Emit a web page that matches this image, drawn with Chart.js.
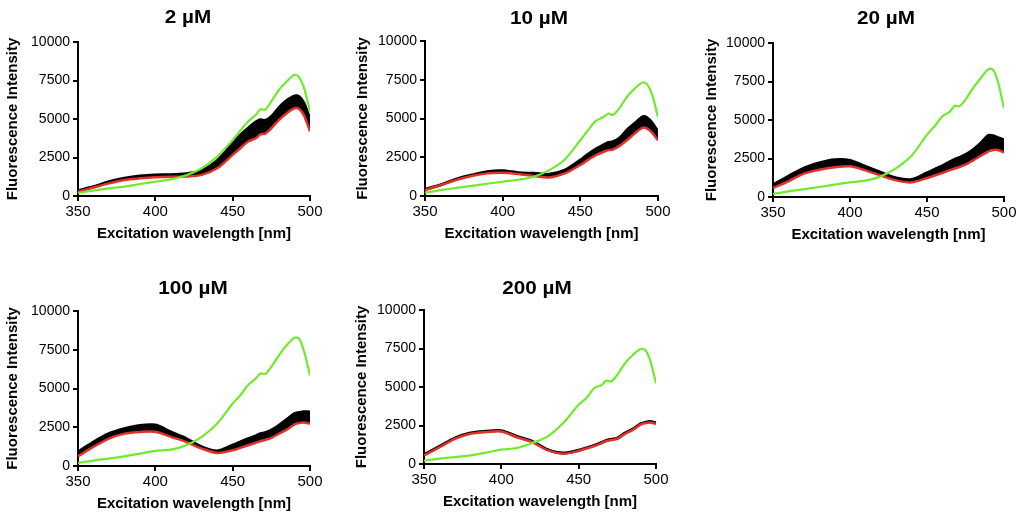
<!DOCTYPE html>
<html>
<head>
<meta charset="utf-8">
<title>Excitation spectra</title>
<script src="https://cdn.jsdelivr.net/npm/chart.js@4.4.1/dist/chart.umd.min.js"></script>
<style>
  body { margin: 0; background: #fff; }
  #wrap { position: relative; width: 1027px; height: 517px; overflow: hidden; }
  #wrap canvas { position: absolute; }
</style>
</head>
<body>
<div id="wrap">
  <canvas id="c2" width="340" height="250" style="left:0px;top:0px;width:340px;height:250px"></canvas>
  <canvas id="c10" width="340" height="250" style="left:350px;top:0px;width:340px;height:250px"></canvas>
  <canvas id="c20" width="328" height="250" style="left:699px;top:0px;width:328px;height:250px"></canvas>
  <canvas id="c100" width="340" height="255" style="left:0px;top:262px;width:340px;height:255px"></canvas>
  <canvas id="c200" width="340" height="255" style="left:349px;top:262px;width:340px;height:255px"></canvas>
</div>
<script>
const wavelengths = [350, 360, 370, 380, 390, 400, 410, 420, 430, 440, 450, 455, 460, 465, 468, 471, 475, 480, 485, 490, 493, 496, 500];
const titles = ['2 µM', '10 µM', '20 µM', '100 µM', '200 µM'];
const xTicks = [350, 400, 450, 500];
const yTicks = [0, 2500, 5000, 7500, 10000];

// 2 µM
const green2 = [200, 350, 500, 610, 780, 930, 1080, 1350, 1800, 2560, 3640, 4250, 4840, 5270, 5640, 5600, 6140, 6900, 7440, 7870, 7700, 7070, 5490];
const black2 = [350, 600, 930, 1150, 1300, 1370, 1380, 1450, 1650, 2300, 3400, 3950, 4400, 4800, 4950, 4900, 5150, 5750, 6200, 6500, 6450, 6050, 5000];
const red2 = [280, 550, 820, 1040, 1150, 1220, 1250, 1260, 1370, 1800, 2670, 3100, 3540, 3750, 4000, 4050, 4400, 4950, 5380, 5700, 5650, 5250, 4200];

// 10 µM
const green10 = [215, 380, 520, 650, 790, 920, 1050, 1245, 1670, 2360, 3600, 4250, 4850, 5100, 5320, 5230, 5640, 6390, 6930, 7320, 7200, 6600, 5100];
const black10 = [430, 710, 1090, 1350, 1570, 1630, 1500, 1460, 1400, 1670, 2320, 2700, 3030, 3300, 3450, 3500, 3710, 4250, 4680, 5110, 5050, 4750, 4140];
const red10 = [390, 700, 1030, 1290, 1460, 1500, 1420, 1290, 1200, 1460, 2000, 2330, 2640, 2850, 2960, 3000, 3220, 3600, 4030, 4400, 4350, 4100, 3600];

// 20 µM
const green20 = [195, 370, 500, 650, 800, 950, 1060, 1340, 1880, 2680, 4050, 4590, 5240, 5560, 5930, 5890, 6320, 7080, 7730, 8310, 8250, 7500, 5780];
const black20 = [800, 1340, 1880, 2210, 2420, 2380, 1990, 1600, 1230, 1130, 1560, 1800, 2030, 2300, 2450, 2550, 2750, 3070, 3510, 4000, 3980, 3850, 3720];
const red20 = [585, 1020, 1520, 1770, 1930, 1990, 1730, 1390, 1080, 950, 1230, 1400, 1560, 1750, 1850, 1950, 2100, 2380, 2680, 2970, 3050, 3050, 2900];

// 100 µM
const green100 = [195, 350, 480, 620, 800, 970, 1060, 1340, 1880, 2740, 4030, 4570, 5220, 5650, 5970, 5930, 6400, 7160, 7800, 8280, 8200, 7450, 5860];
const black100 = [905, 1550, 2090, 2410, 2620, 2640, 2200, 1770, 1230, 970, 1340, 1550, 1770, 1950, 2080, 2150, 2310, 2630, 3000, 3380, 3450, 3500, 3490];
const red100 = [625, 1230, 1770, 2090, 2200, 2210, 1880, 1550, 1120, 840, 1010, 1170, 1340, 1500, 1600, 1680, 1810, 2090, 2350, 2690, 2780, 2800, 2740];

// 200 µM
const green200 = [215, 350, 450, 560, 740, 930, 1040, 1360, 1790, 2660, 3840, 4280, 4920, 5140, 5420, 5360, 5790, 6540, 7080, 7470, 7400, 6800, 5250];
const black200 = [605, 1140, 1680, 2010, 2120, 2160, 1790, 1470, 930, 710, 890, 1050, 1210, 1400, 1530, 1600, 1680, 2010, 2270, 2610, 2700, 2760, 2660];
const red200 = [560, 1090, 1630, 1960, 2070, 2110, 1740, 1420, 880, 670, 850, 1010, 1170, 1360, 1490, 1560, 1640, 1960, 2220, 2560, 2650, 2700, 2600];

const FONT = '"Liberation Sans", Arial, Helvetica, sans-serif';

// canvas box and plot area in page pixels
const panels = [
  { id: 'c2',   title: titles[0], green: green2,   black: black2,   red: red2,   box: [0, 0, 340, 250],   plot: [78, 42, 310, 196],  xH: 51, tx: 188, ty: 18 },
  { id: 'c10',  title: titles[1], green: green10,  black: black10,  red: red10,  box: [350, 0, 340, 250], plot: [425, 41, 658, 196], xH: 51, tx: 539, ty: 19 },
  { id: 'c20',  title: titles[2], green: green20,  black: black20,  red: red20,  box: [699, 0, 328, 250], plot: [773, 43, 1004, 197], xH: 51, tx: 886, ty: 19 },
  { id: 'c100', title: titles[3], green: green100, black: black100, red: red100, box: [0, 262, 340, 255], plot: [78, 311, 310, 466], xH: 51, tx: 193, ty: 289 },
  { id: 'c200', title: titles[4], green: green200, black: black200, red: red200, box: [349, 262, 340, 255], plot: [424, 310, 656, 464], xH: 51, tx: 537, ty: 289 }
];

const toPoints = arr => wavelengths.map((w, i) => ({ x: w, y: arr[i] }));

// draws the bold panel heading, slightly widened like the original export
const panelTitle = {
  id: 'panelTitle',
  afterDraw(chart, args, opts) {
    const ctx = chart.ctx;
    ctx.save();
    ctx.font = 'bold 18px ' + FONT;
    ctx.fillStyle = '#000';
    ctx.textAlign = 'center';
    ctx.textBaseline = 'middle';
    ctx.translate(opts.x, opts.y);
    ctx.scale(1.15, 1);
    ctx.fillText(opts.text, 0, 0);
    ctx.restore();
  }
};

panels.forEach(p => {
  const [bl, bt, bw, bh] = p.box;
  const [pl, pt, pr, pb] = p.plot;
  const yW = pl - bl;
  const padTop = pt - bt;
  const padRight = bl + bw - pr;
  const padBottom = bh - (pb - bt) - p.xH;

  new Chart(document.getElementById(p.id), {
    type: 'line',
    data: {
      datasets: [
        {
          label: 'black',
          data: toPoints(p.black),
          borderColor: '#000',
          backgroundColor: '#000',
          borderWidth: 3,
          fill: '+1',
          order: 3
        },
        {
          label: 'red',
          data: toPoints(p.red),
          borderColor: '#e2302a',
          borderWidth: 2.5,
          fill: false,
          order: 2
        },
        {
          label: 'green',
          data: toPoints(p.green),
          borderColor: '#6fea2c',
          borderWidth: 2.2,
          fill: false,
          order: 1
        }
      ]
    },
    options: {
      responsive: false,
      animation: false,
      devicePixelRatio: 1,
      elements: { point: { radius: 0 }, line: { tension: 0.3 } },
      layout: { padding: { top: padTop, right: padRight, bottom: padBottom, left: 0 } },
      plugins: {
        legend: { display: false },
        tooltip: { enabled: false },
        panelTitle: { text: p.title, x: p.tx - bl, y: p.ty - bt }
      },
      scales: {
        x: {
          type: 'linear',
          min: 350,
          max: 500,
          afterBuildTicks: s => { s.ticks = xTicks.map(v => ({ value: v })); },
          afterFit: s => { s.height = p.xH; },
          grid: { drawOnChartArea: false, drawTicks: true, tickLength: 5, color: '#000', lineWidth: 2 },
          border: { display: true, color: '#000', width: 2 },
          ticks: { color: '#000', padding: 2, maxRotation: 0, callback: v => String(v), font: { family: FONT, size: 15 } },
          title: { display: true, text: 'Excitation wavelength [nm]', color: '#000', padding: { top: 4, bottom: 4 }, font: { family: FONT, size: 15, weight: 'bold' } }
        },
        y: {
          min: 0,
          max: 10000,
          afterBuildTicks: s => { s.ticks = yTicks.map(v => ({ value: v })); },
          afterFit: s => { s.width = yW; },
          grid: { drawOnChartArea: false, drawTicks: true, tickLength: 5, color: '#000', lineWidth: 2 },
          border: { display: true, color: '#000', width: 2 },
          ticks: { color: '#000', padding: 3, callback: v => String(v), font: { family: FONT, size: 14 } },
          title: { display: true, text: 'Fluorescence Intensity', color: '#000', padding: { top: 4, bottom: 4 }, font: { family: FONT, size: 15, weight: 'bold' } }
        }
      }
    },
    plugins: [panelTitle]
  });
});
</script>
</body>
</html>
